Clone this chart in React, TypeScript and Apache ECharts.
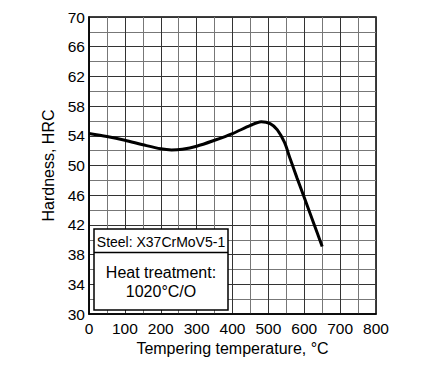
import React, { useEffect, useRef } from "react";
import * as echarts from "echarts";

const temperature = [0, 50, 100, 150, 200, 230, 260, 300, 350, 400, 450, 480, 505, 525, 545, 560, 580, 600, 625, 650];
const hardness = [54.3, 53.9, 53.4, 52.8, 52.25, 52.1, 52.2, 52.6, 53.4, 54.3, 55.4, 55.9, 55.65, 54.8, 53.1, 51.0, 48.3, 45.7, 42.4, 39.1];

const steelLabel = "Steel: X37CrMoV5-1";
const treatmentLines = ["Heat treatment:", "1020\u00B0C/O"];
const xTitle = "Tempering temperature, \u00B0C";
const yTitle = "Hardness, HRC";

export default function App() {
  const ref = useRef<HTMLDivElement>(null);
  useEffect(() => {
    document.body.style.margin = "0";
    if (!ref.current) return;
    const chart = echarts.init(ref.current, null, { renderer: "svg" });
    const font = "'Liberation Sans', Arial, Helvetica, sans-serif";
    chart.setOption({
      animation: false,
      backgroundColor: "#fff",
      grid: { left: 89, right: 56, top: 17, bottom: 66, show: true, borderColor: "#000", borderWidth: 1.5, backgroundColor: "transparent" },
      xAxis: {
        type: "value",
        min: 0,
        max: 800,
        interval: 100,
        name: xTitle,
        nameLocation: "middle",
        nameGap: 23,
        nameTextStyle: { color: "#000", fontSize: 16, fontFamily: font },
        axisLine: { show: true, lineStyle: { color: "#000", width: 1.5 } },
        axisTick: { show: false },
        axisLabel: { color: "#000", fontSize: 15.5, fontFamily: font, margin: 6 },
        splitLine: { show: true, lineStyle: { color: "#333", width: 1 } },
        minorTick: { show: false, splitNumber: 2 },
        minorSplitLine: { show: true, lineStyle: { color: "#777", width: 1 } },
      },
      yAxis: {
        type: "value",
        min: 30,
        max: 70,
        interval: 4,
        name: yTitle,
        nameLocation: "middle",
        nameGap: 30,
        nameTextStyle: { color: "#000", fontSize: 16, fontFamily: font },
        axisLine: { show: true, lineStyle: { color: "#000", width: 1.5 } },
        axisTick: { show: false },
        axisLabel: { color: "#000", fontSize: 15.5, fontFamily: font, margin: 4 },
        splitLine: { show: true, lineStyle: { color: "#333", width: 1 } },
        minorTick: { show: false, splitNumber: 2 },
        minorSplitLine: { show: true, lineStyle: { color: "#777", width: 1 } },
      },
      series: [
        {
          type: "line",
          data: temperature.map((t, i) => [t, hardness[i]]),
          smooth: 0.3,
          showSymbol: false,
          lineStyle: { color: "#000", width: 3 },
          z: 3,
        },
      ],
      graphic: [
        { type: "rect", z: 100, shape: { x: 94, y: 229, width: 134, height: 81 }, style: { fill: "#fff", stroke: "#000", lineWidth: 1.5 } },
        { type: "line", z: 101, shape: { x1: 94, y1: 252.5, x2: 228, y2: 252.5 }, style: { stroke: "#000", lineWidth: 1.5 } },
        { type: "text", z: 102, x: 161, y: 241.5, style: { text: steelLabel, fill: "#000", font: `14px ${font}`, align: "center", verticalAlign: "middle" } },
        { type: "text", z: 102, x: 161, y: 272, style: { text: treatmentLines[0], fill: "#000", font: `16px ${font}`, align: "center", verticalAlign: "middle" } },
        { type: "text", z: 102, x: 161, y: 291, style: { text: treatmentLines[1], fill: "#000", font: `16px ${font}`, align: "center", verticalAlign: "middle" } },
      ],
    });
    return () => chart.dispose();
  }, []);
  return <div ref={ref} style={{ width: 432, height: 380 }} />;
}
